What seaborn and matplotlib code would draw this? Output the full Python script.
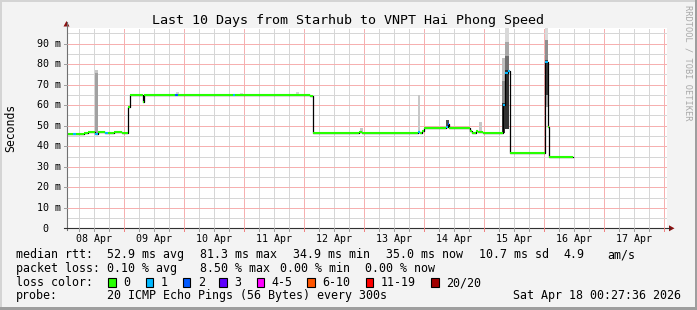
import matplotlib
matplotlib.use('Agg')
import matplotlib.pyplot as plt
from matplotlib.patches import Rectangle, Polygon
from matplotlib.lines import Line2D
import pandas as pd
import seaborn as sns

# ---------------- data ----------------
title = "Last 10 Days from Starhub to VNPT Hai Phong Speed"
day_labels = ["08 Apr", "09 Apr", "10 Apr", "11 Apr", "12 Apr",
              "13 Apr", "14 Apr", "15 Apr", "16 Apr", "17 Apr"]
y_ticks = [10, 20, 30, 40, 50, 60, 70, 80, 90]

# median rtt (ms) change points, hours since 08 Apr 00:00
hours = [0.88, 3.5, 4.7, 7.9, 9.5, 12.3, 13.5, 16.3, 17.5, 19.9, 23.1, 25.3,
         26.3, 31.3, 31.9, 44.3, 45.5, 67.3, 68.3, 98.3, 99.3, 117.9, 119.1,
         141.5, 142.3, 143.1, 143.9, 145.1, 152.7, 153.3, 153.9, 162.3, 163.1,
         164.7, 165.5, 167.5, 175.3, 176.3, 177.3, 178.1, 192.1, 193.5, 193.9,
         203.5]
median_ms = [45.9, 45.9, 45.9, 46.5, 47.0, 46.0, 47.0, 46.5, 46.5, 47.0, 46.5,
             59.2, 65.1, 61.5, 65.1, 65.1, 65.1, 65.1, 65.1, 64.6, 46.5, 47.0,
             46.5, 47.0, 46.5, 47.5, 48.7, 49.0, 49.2, 51.0, 49.0, 47.5, 46.7,
             47.2, 47.0, 46.5, 60.0, 75.8, 76.8, 36.5, 81.2, 49.5, 34.8, 34.8]
loss_class = [0, 1, 0, 0, 0, 1, 0, 1, 0, 0, 0, 0, 0, 0, 0, 2, 0, 1, 0, 0, 0, 0,
              0, 1, 0, 0, 0, 0, 1, 2, 0, 0, 0, 0, 0, 0, 1, 1, 1, 0, 1, 0, 0, 0]

# smoke (ping spread)
smoke_start = [12.3, 12.3, 44.7, 70.3, 92.7, 118.3, 141.5, 152.7, 165.9,
               175.1, 175.1, 175.1, 176.3, 176.3, 176.3, 176.3, 190.3,
               192.1, 192.1, 192.1, 192.1, 193.3]
smoke_end = [13.5, 13.5, 45.9, 71.5, 93.9, 119.5, 142.3, 153.9, 167.1,
             176.3, 176.3, 176.3, 177.9, 177.9, 177.9, 177.9, 191.9,
             193.5, 193.5, 193.5, 193.5, 193.9]
smoke_low = [46.0, 75.7, 65.1, 65.1, 65.1, 46.5, 46.5, 49.0, 47.0,
             46.5, 61.0, 72.0, 48.5, 77.0, 84.0, 91.0, 36.5,
             59.0, 65.0, 82.0, 92.0, 49.5]
smoke_high = [75.7, 77.3, 66.5, 66.0, 66.5, 48.7, 65.0, 53.0, 52.0,
              61.0, 72.0, 83.0, 77.0, 84.0, 91.0, 97.8, 37.3,
              65.0, 82.0, 92.0, 97.8, 56.0]
smoke_gray = [0.63, 0.78, 0.83, 0.86, 0.83, 0.78, 0.78, 0.31, 0.78,
              0.22, 0.56, 0.75, 0.19, 0.44, 0.66, 0.85, 0.82,
              0.69, 0.25, 0.56, 0.85, 0.72]

loss_labels = ["0", "1", "2", "3", "4-5", "6-10", "11-19", "20/20"]
loss_colors = ["#26ff00", "#00b8ff", "#0059ff", "#5e00ff", "#ff00ff",
               "#ff5500", "#ff0000", "#a10000"]

rtt_items = ["52.9 ms avg", "81.3 ms max", "34.9 ms min", "35.0 ms now",
             "10.7 ms sd", "4.9", "am/s"]
loss_items = ["0.10 % avg", "8.50 % max", "0.00 % min", "0.00 % now"]
probe_text = "20 ICMP Echo Pings (56 Bytes) every 300s"
stamp_text = "Sat Apr 18 00:27:36 2026"

# ---------------- figure ----------------
plt.rcParams['lines.scale_dashes'] = False
mono = 'DejaVu Sans Mono'
W, H = 697, 310
fig = plt.figure(figsize=(W / 100, H / 100), dpi=100, facecolor='#f3f3f3')


def fx(x):
    return x / W


def fy(y):
    return 1 - y / H


# frame shading
fig.add_artist(Rectangle((0, fy(2)), 1, 2 / H, transform=fig.transFigure,
                         color='#d4d4d4', lw=0))
fig.add_artist(Rectangle((0, 0), 2 / W, 1, transform=fig.transFigure,
                         color='#d4d4d4', lw=0))
fig.add_artist(Rectangle((0, 0), 1, 3 / H, transform=fig.transFigure,
                         color='#9e9e9e', lw=0))
fig.add_artist(Rectangle((fx(W - 2), 0), 2 / W, 1, transform=fig.transFigure,
                         color='#9e9e9e', lw=0))

X0, X1, Y0, Y1 = 66.5, 666.5, 228.3, 27.7
PPM = 2.051  # px per ms
ax = fig.add_axes([fx(X0), fy(Y0), (X1 - X0) / W, (Y0 - Y1) / H])
ax.set_facecolor('white')
T0 = 0.88
ax.set_xlim(T0, T0 + 240)
ax.set_ylim(0, (Y0 - Y1) / PPM)
for s in ax.spines.values():
    s.set_visible(False)

major_c = '#f6b0b0'
minor_c = '#d6d6d6'
dash = (0, (0.72, 0.72))
for h in range(6, 241, 6):
    c = major_c if h % 24 == 0 else minor_c
    ax.axvline(h, color=c, lw=0.72, ls=dash, zorder=0, antialiased=False)
for v in range(5, 100, 5):
    c = major_c if v % 10 == 0 else minor_c
    ax.axhline(v, color=c, lw=0.72, ls=dash, zorder=0, antialiased=False)

# smoke
for s0, s1, lo, hi, g in zip(smoke_start, smoke_end, smoke_low, smoke_high, smoke_gray):
    ax.bar(s0, hi - lo, width=s1 - s0, bottom=lo, align='edge',
           color=str(g), lw=0, zorder=2)

# median line (black steps) via seaborn
df = pd.DataFrame({'hours': hours, 'median': median_ms})
sns.lineplot(data=df, x='hours', y='median', drawstyle='steps-post',
             color='black', lw=0.9, estimator=None, ax=ax, zorder=3)
# loss coloured horizontal pieces
for i in range(len(hours) - 1):
    ax.hlines(median_ms[i], hours[i], hours[i + 1],
              color=loss_colors[loss_class[i]], lw=1.5, zorder=4)

ax.set_xticks([])
ax.set_yticks([])
ax.set_xlabel('')
ax.set_ylabel('')

# axes lines + arrows
axis_c = '#303030'
fig.add_artist(Line2D([fx(X0), fx(X0)], [fy(Y0 + 2), fy(22)],
                      transform=fig.transFigure, color='#707070', lw=0.8))
fig.add_artist(Line2D([fx(X0 - 3), fx(670)], [fy(Y0), fy(Y0)],
                      transform=fig.transFigure, color=axis_c, lw=0.8))
arrow_c = '#8b1010'
fig.add_artist(Polygon([(fx(63.5), fy(26.5)), (fx(69.5), fy(26.5)), (fx(66.5), fy(21))],
                       closed=True, transform=fig.transFigure, color=arrow_c, lw=0))
fig.add_artist(Polygon([(fx(669), fy(Y0 - 3)), (fx(669), fy(Y0 + 3)), (fx(674.5), fy(Y0))],
                       closed=True, transform=fig.transFigure, color=arrow_c, lw=0))

# tick marks
for h in range(6, 241, 6):
    xp = X0 + (h - T0) * 2.5
    c = '#f08080' if h % 24 == 0 else '#a0a0a0'
    fig.add_artist(Line2D([fx(xp), fx(xp)], [fy(Y0), fy(Y0 + 2.5)],
                          transform=fig.transFigure, color=c, lw=0.72))
for v in range(10, 100, 10):
    yp = Y0 - v * PPM
    fig.add_artist(Line2D([fx(X0 - 2.5), fx(X0)], [fy(yp), fy(yp)],
                          transform=fig.transFigure, color='#a0a0a0', lw=0.72))

# y tick labels
for v in y_ticks:
    yp = Y0 - v * PPM
    fig.text(fx(60.5), fy(yp + 3.2), f"{v} m", ha='right', va='baseline',
             family=mono, fontsize=7.2, color='black')
fig.text(fx(48.5), fy(Y0 + 3.2), "0", ha='right', va='baseline',
         family=mono, fontsize=7.2, color='black')

# x day labels
for k, lab in enumerate(day_labels):
    xp = X0 + (12 + 24 * k - T0) * 2.5
    fig.text(fx(xp), fy(241.5), lab, ha='center', va='baseline',
             family=mono, fontsize=7.2, color='black')

# title, y label, side text
fig.text(fx(348), fy(24), title, ha='center', va='baseline', family=mono,
         fontsize=9.6, color='black')
fig.text(fx(11), fy(128), "Seconds", ha='center', va='center', rotation=90,
         family=mono, fontsize=8.3, color='black')
fig.text(fx(688), fy(5), "RRDTOOL / TOBI OETIKER", ha='center', va='top',
         rotation=270, family=mono, fontsize=6.2, color='#a8a8a8')

# legend
fs = 8.35
base = [258, 272, 286, 299.5]
fig.text(fx(16), fy(base[0]), "median rtt:", family=mono, fontsize=fs, va='baseline')
for xp, t in zip([107, 200, 293, 386, 479, 563, 607], rtt_items):
    fig.text(fx(xp), fy(base[0]), t, family=mono, fontsize=fs, va='baseline')
fig.text(fx(16), fy(base[1]), "packet loss:", family=mono, fontsize=fs, va='baseline')
for xp, t in zip([107, 200, 280, 365], loss_items):
    fig.text(fx(xp), fy(base[1]), t, family=mono, fontsize=fs, va='baseline')
fig.text(fx(16), fy(base[2]), "loss color:", family=mono, fontsize=fs, va='baseline')
box_x = [108.3, 145.7, 182.7, 219.3, 256.7, 307.3, 365.7, 431.0]
for bx, lab, col in zip(box_x, loss_labels, loss_colors):
    fig.add_artist(Rectangle((fx(bx), fy(286.5)), 7.5 / W, 9 / H,
                             transform=fig.transFigure, facecolor=col,
                             edgecolor='black', lw=0.8))
    fig.text(fx(bx + 15), fy(base[2]), lab, family=mono, fontsize=fs, va='baseline')
fig.text(fx(16), fy(base[3]), "probe:", family=mono, fontsize=fs, va='baseline')
fig.text(fx(107), fy(base[3]), probe_text, family=mono, fontsize=fs, va='baseline')
fig.text(fx(513), fy(base[3]), stamp_text, family=mono, fontsize=fs, va='baseline')

fig.savefig('out.png', dpi=100, facecolor=fig.get_facecolor())
